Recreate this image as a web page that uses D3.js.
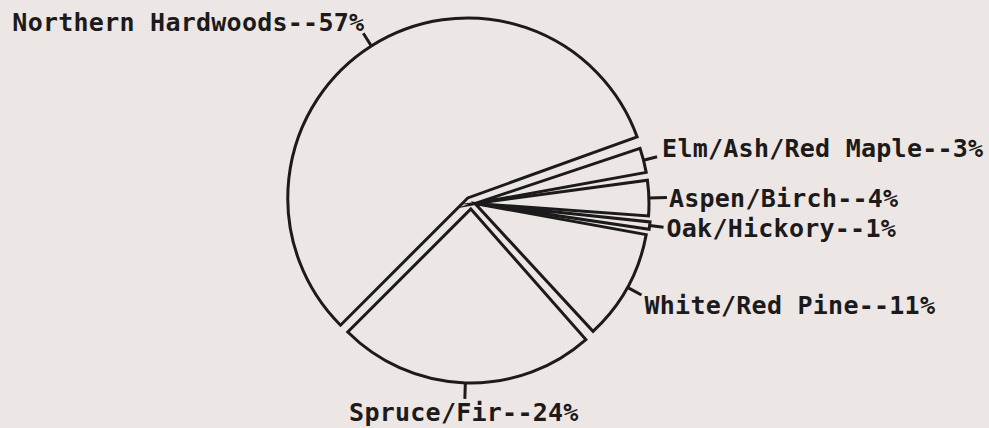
<!DOCTYPE html>
<html>
<head>
<meta charset="utf-8">
<script src="https://cdn.jsdelivr.net/npm/d3@7"></script>
<style>
  html, body { margin: 0; padding: 0; background: #ece7e4; }
  svg { display: block; }
  text { font-family: "DejaVu Sans Mono", monospace; font-weight: bold; font-size: 25px; fill: #1c1a1a; letter-spacing: 0.25px; }
</style>
</head>
<body>
<svg id="chart" width="989" height="428"></svg>
<script>
// ---- data ----
const categories = ["Northern Hardwoods", "Elm/Ash/Red Maple", "Aspen/Birch", "Oak/Hickory", "White/Red Pine", "Spruce/Fir"];
const percents   = [57, 3, 4, 1, 11, 24];
const labels     = ["Northern Hardwoods--57%", "Elm/Ash/Red Maple--3%", "Aspen/Birch--4%", "Oak/Hickory--1%", "White/Red Pine--11%", "Spruce/Fir--24%"];

// ---- layout (not data) ----
const center = {x: 471, y: 203};
const deg = Math.PI / 180;
// explode: "radial" = push along bisector by dist; "shift" = fixed translation
const explodeLayout = [
  {type: "radial", dist: 6},
  {type: "shift", dx: 4, dy: 0.5},
  {type: "shift", dx: 4, dy: 0.5},
  {type: "shift", dx: 4, dy: 0.5},
  {type: "shift", dx: 4, dy: 0.5},
  {type: "radial", dist: 6}
];
const padSide = [0, 1.3, 1.3, 0.6, 1.3, 0].map(v => v * deg);
const radii = [180, 174, 174, 176, 174, 174];
const tickLen = [15, 14, 18, 14, 16, 16];
const labelLayout = [
  {anchor: "end",    dx: 1,  dy: -2},
  {anchor: "start",  dx: 5,  dy: 0},
  {anchor: "start",  dx: 2,  dy: 10},
  {anchor: "start",  dx: 3,  dy: 10},
  {anchor: "start",  dx: 3,  dy: 19},
  {anchor: "middle", dx: -1, dy: 22}
];

const rows = categories.map((c, i) => ({name: c, value: percents[i], label: labels[i], i}));
const svg = d3.select("#chart");

const pie = d3.pie().sort(null).value(d => d.value)
  .startAngle(-135 * deg).endAngle(225 * deg);
const arcs = pie(rows);

const g = svg.append("g").attr("transform", `translate(${center.x},${center.y})`);
const ink = "#1c1a1a", sw = 3;

arcs.forEach(a => {
  const i = a.data.i;
  const mid = (a.startAngle + a.endAngle) / 2;
  const ux = Math.sin(mid), uy = -Math.cos(mid);
  const E = explodeLayout[i];
  const ox = E.type === "radial" ? ux * E.dist : E.dx;
  const oy = E.type === "radial" ? uy * E.dist : E.dy;
  const R = radii[i];
  const arc = d3.arc().innerRadius(0).outerRadius(R);
  const padded = {startAngle: a.startAngle + padSide[i], endAngle: a.endAngle - padSide[i]};
  const sg = g.append("g").attr("transform", `translate(${ox},${oy})`);
  sg.append("path").attr("d", arc(padded))
    .attr("fill", "none").attr("stroke", ink)
    .attr("stroke-width", sw).attr("stroke-linejoin", "miter").attr("stroke-miterlimit", 20);
  const x1 = ux * R, y1 = uy * R;
  const x2 = ux * (R + tickLen[i]), y2 = uy * (R + tickLen[i]);
  sg.append("line").attr("x1", x1).attr("y1", y1).attr("x2", x2).attr("y2", y2)
    .attr("stroke", ink).attr("stroke-width", sw);
  const L = labelLayout[i];
  sg.append("text").attr("x", x2 + L.dx).attr("y", y2 + L.dy)
    .attr("text-anchor", L.anchor).text(a.data.label);
});
</script>
</body>
</html>
